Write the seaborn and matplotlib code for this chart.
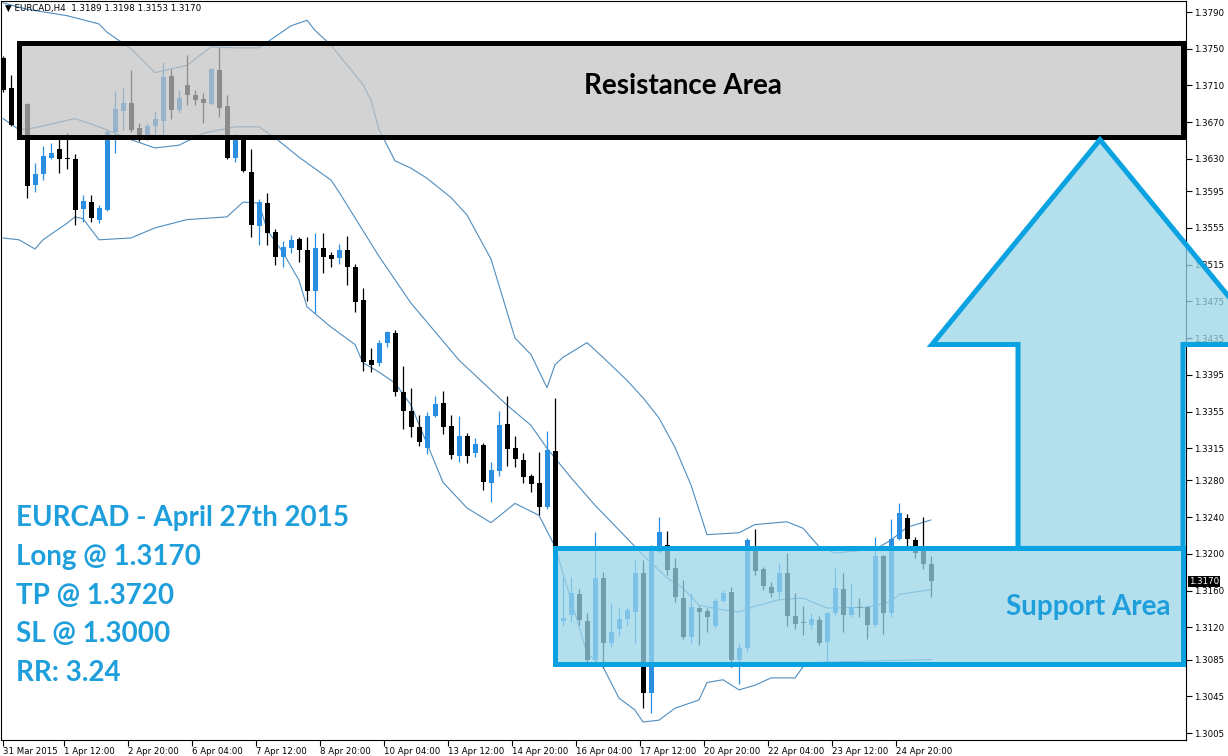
import matplotlib
matplotlib.use('Agg')
import matplotlib.pyplot as plt
import matplotlib.transforms as mtransforms
from matplotlib.patches import Rectangle, Polygon
import seaborn as sns
import numpy as np
import pandas as pd

sns.set_theme(style='white')
plt.rcParams['font.family'] = ['DejaVu Sans']

# EURCAD H4 candles (31 Mar - 27 Apr 2015)
opens = [1.3740, 1.3707, 1.3667, 1.3690, 1.3602, 1.3614, 1.3631, 1.3641, 1.3631, 1.3630,
         1.3576, 1.3583, 1.3564, 1.3574, 1.3659, 1.3682, 1.3691, 1.3664, 1.3656, 1.3666,
         1.3671, 1.3720, 1.3683, 1.3711, 1.3700, 1.3695, 1.3690, 1.3727, 1.3688, 1.3631,
         1.3653, 1.3616, 1.3557, 1.3582, 1.3551, 1.3523, 1.3533, 1.3543, 1.3531, 1.3486,
         1.3533, 1.3525, 1.3522, 1.3531, 1.3512, 1.3477, 1.3411, 1.3408, 1.3430, 1.3441,
         1.3376, 1.3356, 1.3338, 1.3315, 1.3350, 1.3364, 1.3339, 1.3307, 1.3328, 1.3310,
         1.3319, 1.3277, 1.3290, 1.3341, 1.3315, 1.3302, 1.3285, 1.3277, 1.3251, 1.3312,
         1.3127, 1.3134, 1.3156, 1.3127, 1.3085, 1.3174, 1.3103, 1.3118, 1.3129, 1.3137,
         1.3179, 1.3049, 1.3202, 1.3210, 1.3185, 1.3152, 1.3110, 1.3141, 1.3138, 1.3122,
         1.3149, 1.3159, 1.3085, 1.3098, 1.3204, 1.3184, 1.3164, 1.3159, 1.3179, 1.3132,
         1.3126, 1.3123, 1.3128, 1.3104, 1.3136, 1.3162, 1.3134, 1.3142, 1.3142, 1.3123,
         1.3198, 1.3136, 1.3216, 1.3239, 1.3215, 1.3205, 1.3189]
highs = [1.3742, 1.3721, 1.3694, 1.3691, 1.3626, 1.3644, 1.3647, 1.3653, 1.3658, 1.3635,
         1.3591, 1.3591, 1.3580, 1.3662, 1.3704, 1.3707, 1.3727, 1.3669, 1.3669, 1.3682,
         1.3736, 1.3728, 1.3705, 1.3743, 1.3705, 1.3702, 1.3729, 1.3752, 1.3700, 1.3658,
         1.3655, 1.3641, 1.3586, 1.3593, 1.3554, 1.3541, 1.3547, 1.3545, 1.3545, 1.3549,
         1.3549, 1.3529, 1.3537, 1.3546, 1.3516, 1.3490, 1.3424, 1.3433, 1.3443, 1.3444,
         1.3405, 1.3381, 1.3351, 1.3355, 1.3372, 1.3377, 1.3351, 1.3350, 1.3332, 1.3326,
         1.3321, 1.3300, 1.3356, 1.3372, 1.3328, 1.3310, 1.3287, 1.3311, 1.3334, 1.3370,
         1.3175, 1.3175, 1.3162, 1.3136, 1.3224, 1.3180, 1.3147, 1.3141, 1.3142, 1.3193,
         1.3193, 1.3210, 1.3240, 1.3225, 1.3196, 1.3172, 1.3157, 1.3143, 1.3141, 1.3152,
         1.3161, 1.3164, 1.3103, 1.3217, 1.3227, 1.3186, 1.3169, 1.3190, 1.3201, 1.3157,
         1.3143, 1.3136, 1.3132, 1.3137, 1.3185, 1.3179, 1.3168, 1.3152, 1.3143, 1.3218,
         1.3199, 1.3238, 1.3255, 1.3244, 1.3218, 1.3240, 1.3198]
lows = [1.3703, 1.3666, 1.3664, 1.3588, 1.3594, 1.3607, 1.3630, 1.3615, 1.3619, 1.3558,
        1.3561, 1.3561, 1.3560, 1.3573, 1.3637, 1.3662, 1.3659, 1.3650, 1.3651, 1.3656,
        1.3656, 1.3674, 1.3680, 1.3689, 1.3689, 1.3669, 1.3689, 1.3676, 1.3630, 1.3627,
        1.3616, 1.3545, 1.3536, 1.3536, 1.3515, 1.3512, 1.3528, 1.3518, 1.3475, 1.3462,
        1.3506, 1.3512, 1.3516, 1.3493, 1.3463, 1.3399, 1.3398, 1.3405, 1.3425, 1.3372,
        1.3336, 1.3327, 1.3318, 1.3309, 1.3349, 1.3331, 1.3303, 1.3300, 1.3299, 1.3306,
        1.3270, 1.3257, 1.3285, 1.3296, 1.3295, 1.3277, 1.3267, 1.3242, 1.3249, 1.3126,
        1.3122, 1.3126, 1.3123, 1.3082, 1.3082, 1.3077, 1.3099, 1.3111, 1.3122, 1.3103,
        1.3032, 1.3027, 1.3201, 1.3177, 1.3148, 1.3107, 1.3103, 1.3101, 1.3115, 1.3119,
        1.3148, 1.3077, 1.3058, 1.3093, 1.3177, 1.3161, 1.3153, 1.3152, 1.3122, 1.3118,
        1.3112, 1.3118, 1.3101, 1.3082, 1.3134, 1.3115, 1.3131, 1.3131, 1.3107, 1.3120,
        1.3113, 1.3131, 1.3215, 1.3209, 1.3196, 1.3184, 1.3153]
closes = [1.3705, 1.3667, 1.3690, 1.3601, 1.3614, 1.3633, 1.3637, 1.3630, 1.3630, 1.3574,
          1.3584, 1.3566, 1.3577, 1.3659, 1.3684, 1.3691, 1.3662, 1.3652, 1.3666, 1.3674,
          1.3719, 1.3683, 1.3696, 1.3700, 1.3694, 1.3691, 1.3728, 1.3686, 1.3631, 1.3656,
          1.3617, 1.3558, 1.3583, 1.3549, 1.3523, 1.3534, 1.3542, 1.3531, 1.3486, 1.3533,
          1.3523, 1.3521, 1.3531, 1.3512, 1.3474, 1.3409, 1.3406, 1.3430, 1.3442, 1.3376,
          1.3356, 1.3338, 1.3322, 1.3350, 1.3363, 1.3338, 1.3308, 1.3328, 1.3307, 1.3320,
          1.3278, 1.3291, 1.3340, 1.3314, 1.3303, 1.3284, 1.3276, 1.3251, 1.3313, 1.3128,
          1.3130, 1.3157, 1.3128, 1.3085, 1.3174, 1.3103, 1.3115, 1.3129, 1.3139, 1.3179,
          1.3049, 1.3203, 1.3224, 1.3183, 1.3153, 1.3110, 1.3142, 1.3137, 1.3131, 1.3149,
          1.3157, 1.3085, 1.3098, 1.3215, 1.3181, 1.3165, 1.3157, 1.3179, 1.3132, 1.3124,
          1.3125, 1.3129, 1.3103, 1.3136, 1.3163, 1.3134, 1.3142, 1.3141, 1.3123, 1.3198,
          1.3136, 1.3216, 1.3245, 1.3216, 1.3201, 1.3189, 1.3170]

# Bollinger bands, sampled at some bars
upper_bar = [0, 3, 8, 12, 13, 16, 19, 23, 26, 29, 32, 34, 36, 38, 39, 41, 45, 46, 47, 49,
             51, 53, 56, 58, 61, 64, 66, 68, 69, 70, 73, 75, 78, 80, 82, 84, 86, 88, 92, 94,
             98, 100, 102, 104, 109, 111, 113, 116]
upper = [1.3800, 1.3793, 1.3786, 1.3777, 1.3768, 1.3750, 1.3724, 1.3732, 1.3752, 1.3751,
         1.3751, 1.3763, 1.3775, 1.3781, 1.3770, 1.3754, 1.3711, 1.3694, 1.3662, 1.3628,
         1.3620, 1.3609, 1.3588, 1.3569, 1.3521, 1.3435, 1.3417, 1.3381, 1.3406, 1.3414,
         1.3430, 1.3414, 1.3389, 1.3370, 1.3348, 1.3316, 1.3275, 1.3221, 1.3223, 1.3232,
         1.3235, 1.3228, 1.3208, 1.3201, 1.3205, 1.3215, 1.3229, 1.3237]
middle_bar = [0, 2, 4, 9, 12, 16, 19, 22, 25, 29, 32, 34, 37, 41, 42, 47, 51, 57, 63, 66,
              68, 71, 74, 77, 80, 83, 85, 87, 90, 92, 94, 97, 100, 103, 108, 111, 112, 116]
middle = [1.3674, 1.3662, 1.3664, 1.3674, 1.3665, 1.3651, 1.3642, 1.3645, 1.3658, 1.3665,
          1.3665, 1.3653, 1.3632, 1.3607, 1.3594, 1.3524, 1.3473, 1.3411, 1.3362, 1.3340,
          1.3315, 1.3283, 1.3253, 1.3226, 1.3199, 1.3174, 1.3163, 1.3144, 1.3139, 1.3137,
          1.3143, 1.3150, 1.3152, 1.3141, 1.3142, 1.3148, 1.3156, 1.3161]
lower_bar = [0, 2, 4, 5, 8, 9, 10, 12, 16, 19, 23, 28, 30, 32, 33, 35, 37, 38, 41, 44,
             45, 47, 49, 51, 55, 58, 61, 64, 67, 69, 73, 75, 77, 79, 80, 82, 84, 87, 88, 90,
             92, 94, 96, 99, 100, 102, 116]
lower = [1.3544, 1.3542, 1.3532, 1.3542, 1.3560, 1.3567, 1.3565, 1.3542, 1.3544, 1.3555,
         1.3564, 1.3567, 1.3583, 1.3582, 1.3553, 1.3528, 1.3498, 1.3469, 1.3447, 1.3428,
         1.3408, 1.3398, 1.3386, 1.3362, 1.3278, 1.3250, 1.3234, 1.3255, 1.3242, 1.3208,
         1.3092, 1.3077, 1.3043, 1.3030, 1.3017, 1.3019, 1.3032, 1.3041, 1.3060, 1.3063,
         1.3052, 1.3057, 1.3065, 1.3065, 1.3077, 1.3082, 1.3085]

# axis labels
x_labels = ['31 Mar 2015', '1 Apr 12:00', '2 Apr 20:00', '6 Apr 04:00', '7 Apr 12:00',
            '8 Apr 20:00', '10 Apr 04:00', '13 Apr 12:00', '14 Apr 20:00', '16 Apr 04:00',
            '17 Apr 12:00', '20 Apr 20:00', '22 Apr 04:00', '23 Apr 12:00', '24 Apr 20:00']
y_ticks = [1.3790, 1.3750, 1.3710, 1.3670, 1.3630, 1.3595, 1.3555, 1.3515, 1.3475, 1.3435,
           1.3395, 1.3355, 1.3315, 1.3280, 1.3240, 1.3200, 1.3160, 1.3120, 1.3085, 1.3045,
           1.3005]

# trade setup
resistance = (1.3654, 1.3756)
support = (1.3080, 1.3206)
arrow_tip = 1.3651
arrow_head_base = 1.3428
trade_lines = ['EURCAD - April 27th 2015', 'Long @ 1.3170', 'TP @ 1.3720',
               'SL @ 1.3000', 'RR: 3.24']
header = '\u25bc EURCAD,H4  1.3189 1.3198 1.3153 1.3170'

bull_color = '#2a8fe3'
bear_color = 'black'
band_color = '#4f8dbf'
zone_blue = '#0aa2e0'
text_blue = '#1e9fdc'
big_font = 20

fig = plt.figure(figsize=(12.28, 7.56), dpi=100)
ax = fig.add_axes([1 / 1228, 16 / 756, 1185 / 1228, 739 / 756])
xmin, xmax = -0.25, 147.875
ax.set_xlim(xmin, xmax)
ax.set_ylim(1.29974, 1.38020)

candles = pd.DataFrame({'open': opens, 'high': highs, 'low': lows, 'close': closes})
candles['bar'] = np.arange(len(candles))
bull = candles['close'] > candles['open']
colors = np.where(bull, bull_color, bear_color)

# Bollinger bands
for bars, vals in [(upper_bar, upper), (middle_bar, middle), (lower_bar, lower)]:
    sns.lineplot(x=bars, y=vals, ax=ax, color=band_color, lw=0.8, zorder=1)

ax.vlines(candles['bar'], candles['low'], candles['high'], colors=colors, lw=0.9, zorder=2)
body_low = candles[['open', 'close']].min(axis=1)
body_h = (candles['close'] - candles['open']).abs().clip(lower=0.00012)
ax.bar(candles['bar'], body_h, bottom=body_low, width=0.625, color=colors, lw=0, zorder=3)

right_edge = 147.5
ax.add_patch(Rectangle((2, resistance[0]), right_edge - 2, resistance[1] - resistance[0],
                       facecolor=(0.76, 0.76, 0.76, 0.72), edgecolor='black', lw=3.6, zorder=5))
ax.add_patch(Rectangle((69, support[0]), right_edge - 69, support[1] - support[0],
                       facecolor=(154 / 255, 214 / 255, 233 / 255, 0.74), edgecolor=zone_blue,
                       lw=3.6, zorder=5))

# big arrow, runs over the price scale
shaft_l, shaft_r = 126.875, right_edge
head_l, head_r, tip_x = 116.125, 158.125, 137.125
arrow_pts = [(head_l, arrow_head_base), (tip_x, arrow_tip), (head_r, arrow_head_base),
             (shaft_r, arrow_head_base), (shaft_r, support[1]), (shaft_l, support[1]),
             (shaft_l, arrow_head_base)]
ax.add_patch(Polygon(arrow_pts, closed=True, facecolor=(154 / 255, 214 / 255, 233 / 255, 0.74),
                     edgecolor=zone_blue, lw=3.6, zorder=10, clip_on=False, joinstyle='miter'))

ax.text(85, 1.3709, 'Resistance Area', ha='center', va='center', fontsize=big_font,
        fontweight='bold', family='Lato', color='black', zorder=12)
ax.text(135.6, 1.3142, 'Support Area', ha='center', va='center', fontsize=big_font,
        fontweight='bold', family='Lato', color=text_blue, zorder=12)
for i, line in enumerate(trade_lines):
    ax.text(15 / 1185, 0.3005 - i * 0.0525, line, transform=ax.transAxes, ha='left',
            va='center', fontsize=big_font, fontweight='bold', family='Lato', color=text_blue,
            zorder=12)

ax.text(4 / 1185, 0.9905, header, transform=ax.transAxes, ha='left', va='center',
        fontsize=6.3, color='black', zorder=12)

# price scale on the right
ax.yaxis.tick_right()
ax.set_yticks(y_ticks)
ax.set_yticklabels([f'{v:.4f}' for v in y_ticks])
ax.tick_params(axis='y', which='both', right=True, left=False, direction='out', length=4,
               width=0.8, labelsize=6.2, pad=2, colors='black')

x_pos = [0] + [8 * j - 0.375 for j in range(1, len(x_labels))]
ax.set_xticks(x_pos)
ax.set_xticklabels(x_labels, ha='left')
offset = mtransforms.ScaledTranslation(2 / 100, 0, fig.dpi_scale_trans)
for lab in ax.get_xticklabels():
    lab.set_transform(lab.get_transform() + offset)
ax.tick_params(axis='x', bottom=True, direction='out', length=4, width=0.8,
               labelsize=6.2, pad=1, colors='black')

for s in ax.spines.values():
    s.set_color('black')
    s.set_linewidth(0.8)

blend = mtransforms.blended_transform_factory(ax.transAxes, ax.transData)
ax.text(1.0025, closes[-1], f'{closes[-1]:.4f}', transform=blend, ha='left', va='center',
        fontsize=6.2, color='white', zorder=20, clip_on=False,
        bbox=dict(boxstyle='square,pad=0.15', fc='black', ec='none'))

ax.set_xlabel('')
ax.set_ylabel('')
fig.savefig('out.png', dpi=100)
